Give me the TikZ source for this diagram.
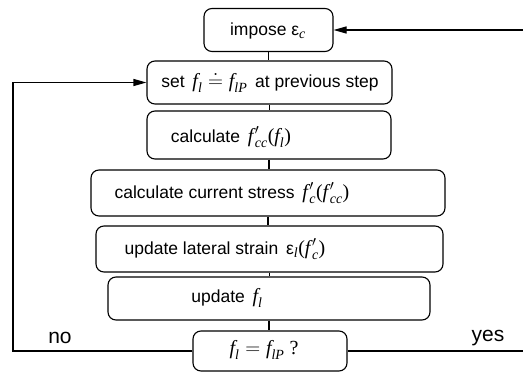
\documentclass[tikz,border=0pt]{standalone}
\usepackage{amsmath}
\usepackage{fontspec}
\setmainfont{Liberation Sans}
\newfontfamily\tms{Liberation Serif}
\usetikzlibrary{arrows.meta}
\newcommand\vf{\text{\tms\itshape f}}
\newcommand\vfp{\text{\tms\itshape f}\kern1.5pt}
\newcommand\vl{\text{\tms\itshape l}}
\newcommand\vc{\text{\tms\itshape c}}
\newcommand\vP{\text{\tms\itshape P}}
\newcommand\lp{\text{\tms(}}
\newcommand\rp{\text{\tms)}}
\newcommand\M[1]{{\fontsize{20}{22}\selectfont$#1$}}
\begin{document}
\begin{tikzpicture}[x=1pt,y=-1pt,
  box/.style={draw,line width=1.1pt,rounded corners=8pt,minimum width=#1,inner sep=0pt},
  txt/.style={inner sep=0pt,font=\fontsize{17.5}{20}\selectfont},
  lbl/.style={inner sep=0pt,font=\fontsize{21}{24}\selectfont},
  line/.style={line width=1.1pt},
  arr/.style={line width=1.1pt,-{Triangle[length=13pt,width=7pt]}}]
\useasboundingbox (0,0) rectangle (523,372);
\node[box=129pt,minimum height=43pt] (b1) at (268.5,30) {};
\node[box=245pt,minimum height=43pt] (b2) at (269.5,82.5) {};
\node[box=244pt,minimum height=48pt] (b3) at (269,135) {};
\node[box=354pt,minimum height=46pt] (b4) at (268,193) {};
\node[box=347pt,minimum height=46pt] (b5) at (269.5,249) {};
\node[box=322pt,minimum height=43pt] (b6) at (269,298.5) {};
\node[box=154pt,minimum height=40pt] (b7) at (270,351) {};
\node[txt] (t1) at (268,31) {impose ε\M{_{\vc}}};
\node[txt] (t2) at (270,82) {set\, \M{\vf_{\vl} \doteq \vf_{\vl\vP}}\, at previous step};
\node[txt] (t3) at (231,137) {calculate\, \M{\vfp'_{\vc\vc}\lp\vf_{\vl}\rp}};
\node[txt] (t4) at (232,193) {calculate current stress\, \M{\vfp'_{\vc}\lp\vfp'_{\vc\vc}\rp}};
\node[txt] (t5) at (225,249) {update lateral strain\, ε\M{_{\vl}\lp\vfp'_{\vc}\rp}};
\node[txt] (t6) at (227,298) {update\, \M{\vf_{\vl}}};
\node[txt] (t7) at (264,350) {\M{\vf_{\vl} = \vf_{\vl\vP}\text{\tms\ ?}}};
\node[lbl] (no) at (60,338) {no};
\node[lbl] (yes) at (488,338) {yes};
\draw[line] (b1.south) -- (b1.south |- b2.north);
\draw[line] (b2.south) -- (b2.south |- b3.north);
\draw[line] (b3.south) -- (b3.south |- b4.north);
\draw[line] (b4.south) -- (b4.south |- b5.north);
\draw[line] (b5.south) -- (b5.south |- b6.north);
\draw[line] (b6.south) -- (b6.south |- b7.north);
\coordinate (L) at (13,351);
\coordinate (R1) at (523,30);
\coordinate (R2) at (523,351);
\draw[arr] (b7.west) -- (L) |- (b2.west);
\draw[line] (b7.east) -- (R2);
\draw[arr] (R1) -- (b1.east);
\end{tikzpicture}
\end{document}
